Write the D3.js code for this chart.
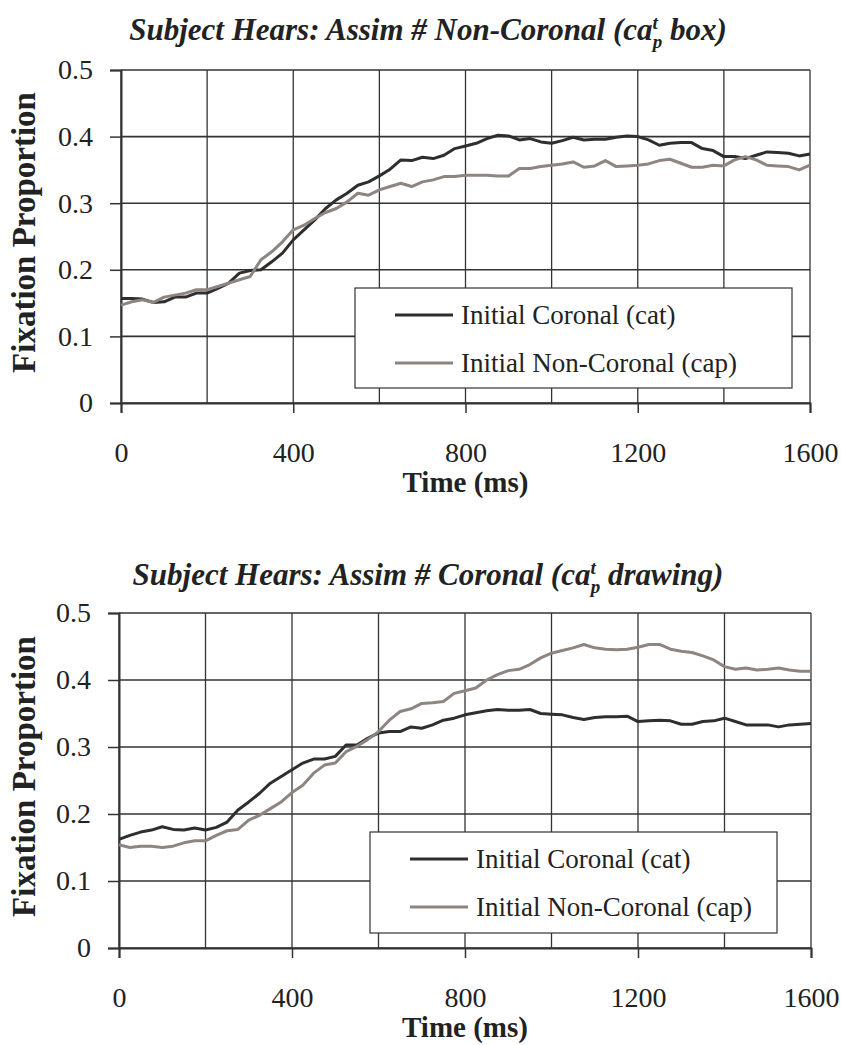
<!DOCTYPE html>
<html>
<head>
<meta charset="utf-8">
<script src="https://cdn.jsdelivr.net/npm/d3@7"></script>
<style>
  body { margin: 0; background: #fff; }
  text { font-family: "Liberation Serif", "Times New Roman", serif; fill: #222; }
</style>
</head>
<body>
<svg class="chart"></svg>
<script>
// sample times (ms), one reading every 25 ms
var timeMs = d3.range(0, 1601, 25);

// panel 1: Assim # Non-Coronal (box)
var topCat = [0.157,0.157,0.156,0.151,0.152,0.159,0.159,0.165,0.165,0.172,
  0.18,0.195,0.199,0.2,0.212,0.225,0.245,0.26,0.275,0.292,
  0.305,0.315,0.327,0.332,0.341,0.351,0.365,0.364,0.369,0.367,
  0.372,0.382,
  0.386,0.39,0.397,0.402,0.401,0.395,0.397,0.392,0.39,0.394,
  0.399,0.395,0.396,0.396,0.399,0.401,0.4,0.395,0.387,0.39,
  0.391,0.391,0.382,0.379,0.37,0.37,0.367,0.372,0.377,0.376,
  0.375,0.371,0.374];
var topCap = [0.147,0.152,0.155,0.151,0.159,0.162,0.165,0.17,0.17,0.175,
  0.18,0.185,0.19,0.215,0.227,0.242,0.26,0.267,0.277,0.286,
  0.292,0.302,0.315,0.312,0.32,0.325,0.33,0.325,0.332,0.335,
  0.34,0.34,
  0.342,0.342,0.342,0.341,0.341,0.352,0.352,0.355,0.357,0.359,
  0.362,0.354,0.356,0.364,0.355,0.356,0.357,0.359,0.364,0.366,
  0.36,0.354,0.354,0.357,0.356,0.365,0.37,0.365,0.357,0.356,
  0.355,0.35,0.357];

// panel 2: Assim # Coronal (drawing)
var bottomCat = [0.162,0.168,0.173,0.176,0.181,0.177,0.176,0.179,0.176,0.18,
  0.188,0.206,0.218,0.231,0.246,0.256,0.266,0.276,0.282,0.282,
  0.286,0.303,0.303,0.313,0.321,0.323,0.323,0.33,0.328,0.333,
  0.34,0.343,
  0.348,0.351,0.354,0.356,0.355,0.355,0.356,0.35,0.349,0.348,
  0.344,0.341,0.344,0.345,0.345,0.346,0.338,0.339,0.34,0.339,
  0.334,0.334,0.338,0.339,0.343,0.338,0.333,0.333,0.333,0.33,
  0.333,0.334,0.335];
var bottomCap = [0.154,0.15,0.152,0.152,0.15,0.152,0.157,0.16,0.16,0.168,
  0.175,0.177,0.191,0.198,0.208,0.218,0.232,0.243,0.261,0.273,
  0.276,0.293,0.301,0.311,0.323,0.34,0.353,0.357,0.365,0.366,
  0.368,0.38,
  0.384,0.388,0.4,0.408,0.414,0.416,0.423,0.433,0.44,0.444,
  0.448,0.453,0.448,0.446,0.445,0.446,0.449,0.453,0.453,0.446,
  0.443,0.441,0.436,0.43,0.42,0.416,0.418,0.415,0.416,0.418,
  0.415,0.413,0.413];

var seriesNames = ["Initial Coronal (cat)", "Initial Non-Coronal (cap)"];
var seriesColors = ["#2e2e2e", "#8e8480"];
var xTicks = [0, 400, 800, 1200, 1600];
var xGrid = [0, 200, 400, 600, 800, 1000, 1200, 1400, 1600];
var yTicks = [0, 0.1, 0.2, 0.3, 0.4, 0.5];

var svg = d3.select(".chart").attr("width", 841).attr("height", 1045);

var panels = [
  {title: ["Subject Hears: Assim # Non-Coronal (ca", " box)"], series: [topCat, topCap],
   left: 121, right: 810, top: 70, bottom: 403, titleY: 40,
   legend: {x: 355, y: 288, w: 437, h: 100}},
  {title: ["Subject Hears: Assim # Coronal (ca", " drawing)"], series: [bottomCat, bottomCap],
   left: 119, right: 811, top: 613, bottom: 948, titleY: 585,
   legend: {x: 370, y: 832, w: 407, h: 101}}
];

panels.forEach(drawPanel);

function drawPanel(p) {
  var x = d3.scaleLinear().domain([0, 1600]).range([p.left, p.right]);
  var y = d3.scaleLinear().domain([0, 0.5]).range([p.bottom, p.top]);
  var g = svg.append("g");

  // title with superscript t / subscript p
  var t = g.append("text")
      .attr("x", 428)
      .attr("y", p.titleY)
      .attr("text-anchor", "middle")
      .style("font-weight", "bold").style("font-style", "italic")
      .style("font-size", "31px");
  t.append("tspan").text(p.title[0]);
  t.append("tspan").attr("dy", -11).style("font-size", "19px").text("t");
  t.append("tspan").attr("dy", 19).attr("dx", -5).style("font-size", "19px").text("p");
  t.append("tspan").attr("dy", -8).text(p.title[1]);

  // grid
  g.append("g").selectAll("line").data(yTicks).enter().append("line")
      .attr("x1", p.left).attr("x2", p.right)
      .attr("y1", function(d) { return y(d); }).attr("y2", function(d) { return y(d); })
      .attr("stroke", "#333").attr("stroke-width", 1.6);
  g.append("g").selectAll("line").data(xGrid).enter().append("line")
      .attr("x1", function(d) { return x(d); }).attr("x2", function(d) { return x(d); })
      .attr("y1", p.top).attr("y2", p.bottom)
      .attr("stroke", "#333").attr("stroke-width", 1.3);

  // axes
  var yAxis = d3.axisLeft(y).tickValues(yTicks).tickSize(11).tickPadding(17)
      .tickFormat(function(d) { return d === 0 ? "0" : d3.format(".1f")(d); });
  var ya = g.append("g").attr("transform", "translate(" + p.left + ",0)").call(yAxis);
  var xAxis = d3.axisBottom(x).tickValues(xTicks).tickSize(10).tickPadding(29)
      .tickFormat(d3.format("d"));
  var xa = g.append("g").attr("transform", "translate(0," + p.bottom + ")").call(xAxis);
  [ya, xa].forEach(function(a) {
    a.select(".domain").attr("stroke", "#333").attr("stroke-width", 2);
    a.selectAll(".tick line").attr("stroke", "#333").attr("stroke-width", 1.5);
    a.selectAll(".tick text").style("font-size", "28px").style("font-family", "Liberation Serif").attr("fill", "#222");
  });

  // lines
  var line = d3.line()
      .x(function(d, i) { return x(timeMs[i]); })
      .y(function(d) { return y(d); });
  p.series.forEach(function(s, i) {
    g.append("path").datum(s)
        .attr("d", line)
        .attr("fill", "none")
        .attr("stroke", seriesColors[i])
        .attr("stroke-width", 3)
        .attr("stroke-linejoin", "round");
  });

  // axis titles
  g.append("text")
      .attr("x", (p.left + p.right) / 2)
      .attr("y", p.bottom + 89)
      .attr("text-anchor", "middle")
      .style("font-weight", "bold").style("font-size", "29px")
      .text("Time (ms)");
  g.append("text")
      .attr("transform", "translate(35," + ((p.top + p.bottom) / 2 - 4) + ") rotate(-90)")
      .attr("text-anchor", "middle")
      .style("font-weight", "bold").style("font-size", "33px")
      .text("Fixation Proportion");

  // legend
  var L = p.legend;
  var lg = g.append("g").attr("transform", "translate(" + L.x + "," + L.y + ")");
  lg.append("rect").attr("width", L.w).attr("height", L.h)
      .attr("fill", "#fff").attr("stroke", "#333").attr("stroke-width", 1.2);
  seriesNames.forEach(function(name, i) {
    var yy = 27 + i * 48;
    lg.append("line").attr("x1", 40).attr("x2", 98).attr("y1", yy).attr("y2", yy)
        .attr("stroke", seriesColors[i]).attr("stroke-width", 3);
    lg.append("text").attr("x", 106).attr("y", yy + 9)
        .style("font-size", "27px")
        .text(name);
  });
}
</script>
</body>
</html>
